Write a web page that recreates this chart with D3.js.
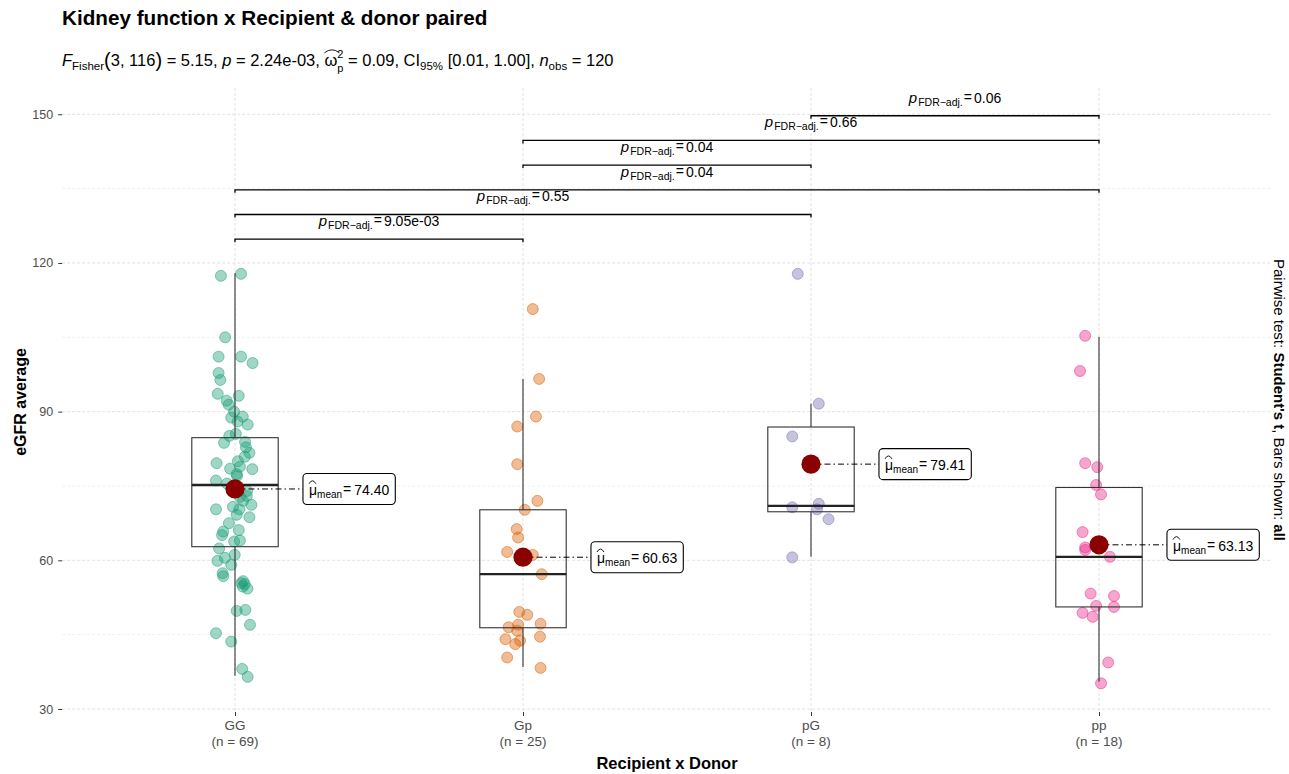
<!DOCTYPE html>
<html>
<head>
<meta charset="utf-8">
<script src="https://cdn.jsdelivr.net/npm/d3@7"></script>
<style>
  body { margin: 0; background: #fff; }
  svg { font-family: "Liberation Sans", Arial, sans-serif; }
  svg text { white-space: pre; }
</style>
</head>
<body>
<div id="chart"></div>
<script>
// values
const groups = ["GG", "Gp", "pG", "pp"];
const groupN = [69, 25, 8, 18];

const valuesGG = [117.4, 117.8, 105.0, 101.1, 101.1, 99.8, 97.8, 96.4, 93.6, 93.2, 92.2, 91.4, 88.8, 89.0, 88.0,
  87.4, 85.1, 83.7, 83.9, 82.8, 81.7, 80.9, 79.6, 78.5, 78.9, 78.4, 77.4, 76.1, 74.7, 73.0, 72.8, 71.2, 70.3,
  70.3, 69.2, 68.7, 66.1, 65.8, 65.1, 63.8, 62.4, 61.1, 59.9, 59.1, 57.4, 56.8, 55.4, 55.2, 54.3, 54.7, 49.8,
  50.0, 47.0, 45.3, 43.6, 38.1, 36.5, 77.0, 75.5, 72.0, 80.0, 67.5, 64.0, 85.5, 90.0, 60.5, 55.8, 74.0, 70.8];
const jitterGG = [-0.049, 0.021, -0.034, -0.057, 0.021, 0.061, -0.057, -0.051, -0.060, 0.013, -0.029, -0.022, -0.013,
  0.027, 0.009, 0.044, -0.020, -0.038, 0.035, 0.038, 0.050, 0.034, -0.064, -0.017, 0.017, 0.060, 0.006, -0.066,
  -0.011, 0.041, 0.017, 0.057, -0.066, 0.015, 0.006, 0.050, 0.013, -0.041, -0.045, -0.003, -0.055, -0.001, -0.061,
  -0.013, -0.043, -0.041, 0.022, 0.034, 0.043, 0.027, 0.006, 0.036, 0.052, -0.066, -0.013, 0.025, 0.044,
  0.007, -0.028, 0.028, 0.010, -0.021, 0.017, 0.003, -0.003, -0.035, 0.028, 0.042, -0.007];

const valuesGp = [110.7, 96.6, 89.0, 87.0, 79.4, 72.0, 70.2, 66.3, 64.6, 61.7, 61.1, 57.2, 49.6, 49.0, 47.2, 46.5,
  47.0, 45.8, 44.1, 44.6, 43.1, 40.4, 38.3, 60.6, 43.8];
const jitterGp = [0.034, 0.056, 0.045, -0.020, -0.020, 0.050, 0.006, -0.022, -0.017, -0.055, 0.034, 0.065, -0.013,
  0.015, 0.061, -0.050, -0.017, -0.020, -0.061, 0.059, -0.027, -0.055, 0.061, 0.000, -0.010];

const valuesPG = [117.8, 91.6, 85.0, 70.7, 71.4, 70.3, 68.3, 60.6];
const jitterPG = [-0.046, 0.027, -0.065, -0.065, 0.027, 0.021, 0.061, -0.065];

const valuesPP = [105.3, 98.2, 79.6, 78.8, 75.2, 73.3, 65.7, 62.6, 62.1, 60.7, 53.3, 52.8, 50.8, 50.6, 49.4, 48.6,
  39.4, 35.2];
const jitterPP = [-0.048, -0.066, -0.048, -0.006, -0.010, 0.007, -0.057, -0.048, -0.048, 0.038, -0.029, 0.052,
  -0.010, 0.052, -0.057, -0.022, 0.032, 0.007];

const whiskerLow = [36.7, 38.5, 60.7, 35.5];
const boxQ1 = [62.75, 46.4, 69.8, 50.6];
const boxMedian = [75.2, 57.2, 71.0, 60.7];
const boxQ3 = [84.75, 70.2, 86.9, 74.7];
const whiskerHigh = [117.9, 96.6, 91.6, 105.1];
const means = [74.40, 60.63, 79.41, 63.13];

const pairFrom = ["GG", "GG", "GG", "Gp", "Gp", "pG"];
const pairTo = ["Gp", "pG", "pp", "pG", "pp", "pp"];
const pairP = ["9.05e-03", "0.55", "0.04", "0.04", "0.66", "0.06"];

const yTicks = [30, 60, 90, 120, 150];
const yMinor = [45, 75, 105, 135];

const W = 1289, H = 774;
const panel = { left: 62.2, right: 1271.8, top: 88, bottom: 712 };
const palette = ["#1B9E77", "#D95F02", "#7570B3", "#E7298A"];

const svg = d3.select('#chart').append('svg').attr('width', W).attr('height', H).attr('viewBox', `0 0 ${W} ${H}`);

const x = d3.scalePoint().domain(groups).range([panel.left, panel.right]).padding(0.6);
const y = d3.scaleLinear().domain([29.4, 155.3]).range([panel.bottom, panel.top]);
const step = x.step();

// rich text: sequence of segments laid out left to right
function rich(parent, x0, y0, segs, anchor) {
  const g = parent.append('g');
  let cx = 0;
  segs.forEach(s => {
    const t = g.append('text').attr('x', cx + (s.dx || 0)).attr('y', s.dy || 0)
      .attr('font-size', s.size).attr('fill', s.fill || '#000')
      .attr('font-style', s.it ? 'italic' : null).attr('font-weight', s.bold ? 'bold' : null)
      .text(s.t);
    const w = t.node().getComputedTextLength();
    if (s.hat) {
      const hw = s.hatW || w, hy = (s.dy || 0) - s.size * 0.8;
      const x1 = cx + (s.dx || 0), x2 = x1 + hw;
      g.append('path').attr('d', `M${x1},${hy} Q${(x1 + x2) / 2},${hy - 6} ${x2},${hy}`)
        .attr('fill', 'none').attr('stroke', s.fill || '#000').attr('stroke-width', 0.9);
    }
    if (s.adv !== false) cx += w + (s.dx || 0) + (s.gap || 0);
  });
  const dx = anchor === 'middle' ? -cx / 2 : 0;
  g.attr('transform', `translate(${x0 + dx},${y0})`);
  return cx;
}

// grid
const grid = svg.append('g');
grid.selectAll('.minor').data(yMinor).enter().append('line')
  .attr('x1', panel.left).attr('x2', panel.right).attr('y1', d => y(d)).attr('y2', d => y(d))
  .attr('stroke', '#ececec').attr('stroke-width', 0.8).attr('stroke-dasharray', '3,2');
grid.selectAll('.major').data(yTicks).enter().append('line')
  .attr('x1', panel.left).attr('x2', panel.right).attr('y1', d => y(d)).attr('y2', d => y(d))
  .attr('stroke', '#dedede').attr('stroke-width', 0.9).attr('stroke-dasharray', '3,2');
grid.selectAll('.vmajor').data(groups).enter().append('line')
  .attr('x1', d => x(d)).attr('x2', d => x(d)).attr('y1', panel.top).attr('y2', panel.bottom)
  .attr('stroke', '#dedede').attr('stroke-width', 0.9).attr('stroke-dasharray', '3,2');

// axes
const yAxis = svg.append('g').attr('transform', `translate(${panel.left},0)`)
  .call(d3.axisLeft(y).tickValues(yTicks).tickSize(4).tickPadding(5));
yAxis.select('.domain').remove();
yAxis.selectAll('line').attr('stroke', '#333');
yAxis.selectAll('text').attr('font-size', 12.5).attr('fill', '#4d4d4d').attr('font-family', '"Liberation Sans", Arial, sans-serif');

const xAxis = svg.append('g').attr('transform', `translate(0,${panel.bottom})`)
  .call(d3.axisBottom(x).tickSize(4).tickFormat(''));
xAxis.select('.domain').remove();
xAxis.selectAll('line').attr('stroke', '#333');
groups.forEach((gname, i) => {
  const t = svg.append('text').attr('text-anchor', 'middle').attr('font-size', 13.5).attr('fill', '#4d4d4d')
    .attr('x', x(gname)).attr('y', 730);
  t.append('tspan').attr('x', x(gname)).text(gname);
  t.append('tspan').attr('x', x(gname)).attr('dy', 16).text(`(n = ${groupN[i]})`);
});

// points
const seriesVals = [valuesGG, valuesGp, valuesPG, valuesPP];
const seriesJit = [jitterGG, jitterGp, jitterPG, jitterPP];
const pts = svg.append('g');
groups.forEach((gname, i) => {
  const data = seriesVals[i].map((v, k) => ({ v, j: seriesJit[i][k] }));
  pts.selectAll(`.pt-${gname}`).data(data).enter().append('circle')
    .attr('cx', d => x(gname) + d.j * step).attr('cy', d => y(d.v)).attr('r', 5.5)
    .attr('fill', palette[i]).attr('fill-opacity', 0.42)
    .attr('stroke', palette[i]).attr('stroke-opacity', 0.5).attr('stroke-width', 1);
});

// boxplots
const bw = step * 0.3;
const boxes = svg.append('g');
groups.forEach((gname, i) => {
  const cx = x(gname);
  boxes.append('line').attr('x1', cx).attr('x2', cx).attr('y1', y(boxQ3[i])).attr('y2', y(whiskerHigh[i]))
    .attr('stroke', '#333').attr('stroke-width', 1.1);
  boxes.append('line').attr('x1', cx).attr('x2', cx).attr('y1', y(boxQ1[i])).attr('y2', y(whiskerLow[i]))
    .attr('stroke', '#333').attr('stroke-width', 1.1);
  boxes.append('rect').attr('x', cx - bw / 2).attr('width', bw)
    .attr('y', y(boxQ3[i])).attr('height', y(boxQ1[i]) - y(boxQ3[i]))
    .attr('fill', 'none').attr('stroke', '#333').attr('stroke-width', 1.1);
  boxes.append('line').attr('x1', cx - bw / 2).attr('x2', cx + bw / 2)
    .attr('y1', y(boxMedian[i])).attr('y2', y(boxMedian[i]))
    .attr('stroke', '#222').attr('stroke-width', 2.3);
});

// means + labels
const meanG = svg.append('g');
groups.forEach((gname, i) => {
  const cx = x(gname), cy = y(means[i]);
  const lx = cx + step * 0.236;
  meanG.append('line').attr('x1', cx).attr('x2', lx).attr('y1', cy).attr('y2', cy)
    .attr('stroke', '#000').attr('stroke-width', 1).attr('stroke-dasharray', '6,3,1.5,3');
  meanG.append('circle').attr('cx', cx).attr('cy', cy).attr('r', 9.6).attr('fill', '#8B0000');
  const lab = meanG.append('g');
  const rect = lab.append('rect').attr('fill', '#fff').attr('stroke', '#000').attr('stroke-width', 1.1).attr('rx', 4);
  const w = rich(lab, lx + 6, cy + 6, [
    { t: 'μ', size: 14, hat: true, hatW: 7 },
    { t: 'mean', size: 10, dy: 3 },
    { t: '=', size: 14, dy: -1, dx: 1 },
    { t: means[i].toFixed(2), size: 14, dx: 3 }
  ]);
  rect.attr('x', lx).attr('y', cy - 15.5).attr('width', w + 12).attr('height', 31);
});

// pairwise brackets
const brG = svg.append('g');
pairFrom.forEach((a, i) => {
  const by = y(124.8 + i * 4.98);
  const x1 = x(a), x2 = x(pairTo[i]);
  brG.append('path').attr('d', `M${x1},${by + 3}L${x1},${by}L${x2},${by}L${x2},${by + 3}`)
    .attr('fill', 'none').attr('stroke', '#000').attr('stroke-width', 1.3);
  rich(brG, (x1 + x2) / 2, by - 13, [
    { t: 'p', size: 15, it: true, gap: 1 },
    { t: 'FDR−adj.', size: 10.5, dy: 3 },
    { t: '=', size: 14, dy: -1, dx: 1 },
    { t: pairP[i], size: 14, dx: 2 }
  ], 'middle');
});

// titles
svg.append('text').attr('x', 62).attr('y', 25).attr('font-size', 20.7).attr('font-weight', 'bold')
  .text('Kidney function x Recipient & donor paired');

const sub = svg.append('g');
rich(sub, 62, 66, [
  { t: 'F', size: 16.5, it: true },
  { t: 'Fisher', size: 11.5, dy: 4 },
  { t: '(', size: 20, dy: 1 },
  { t: '3, 116', size: 16.5 },
  { t: ')', size: 20, dy: 1 },
  { t: ' = 5.15, ', size: 16.5 },
  { t: 'p', size: 16.5, it: true },
  { t: ' = 2.24e-03, ', size: 16.5 },
  { t: 'ω', size: 16.5, hat: true, hatW: 15 },
  { t: '2', size: 11, dy: -8, adv: false },
  { t: 'p', size: 11, dy: 6 },
  { t: ' = 0.09, CI', size: 16.5 },
  { t: '95%', size: 11.5, dy: 4 },
  { t: ' [0.01, 1.00], ', size: 16.5 },
  { t: 'n', size: 16.5, it: true },
  { t: 'obs', size: 11.5, dy: 4 },
  { t: ' = 120', size: 16.5 }
]);

svg.append('text').attr('transform', 'translate(26,402) rotate(-90)').attr('text-anchor', 'middle')
  .attr('font-size', 16).attr('font-weight', 'bold').text('eGFR average');
svg.append('text').attr('x', (panel.left + panel.right) / 2).attr('y', 769).attr('text-anchor', 'middle')
  .attr('font-size', 16.5).attr('font-weight', 'bold').text('Recipient x Donor');

const cap = svg.append('text').attr('transform', `translate(1274,${(panel.top + panel.bottom) / 2}) rotate(90)`)
  .attr('text-anchor', 'middle').attr('font-size', 15);
cap.append('tspan').text('Pairwise test: ');
cap.append('tspan').attr('font-weight', 'bold').text("Student's t");
cap.append('tspan').text(', Bars shown: ');
cap.append('tspan').attr('font-weight', 'bold').text('all');
</script>
</body>
</html>
